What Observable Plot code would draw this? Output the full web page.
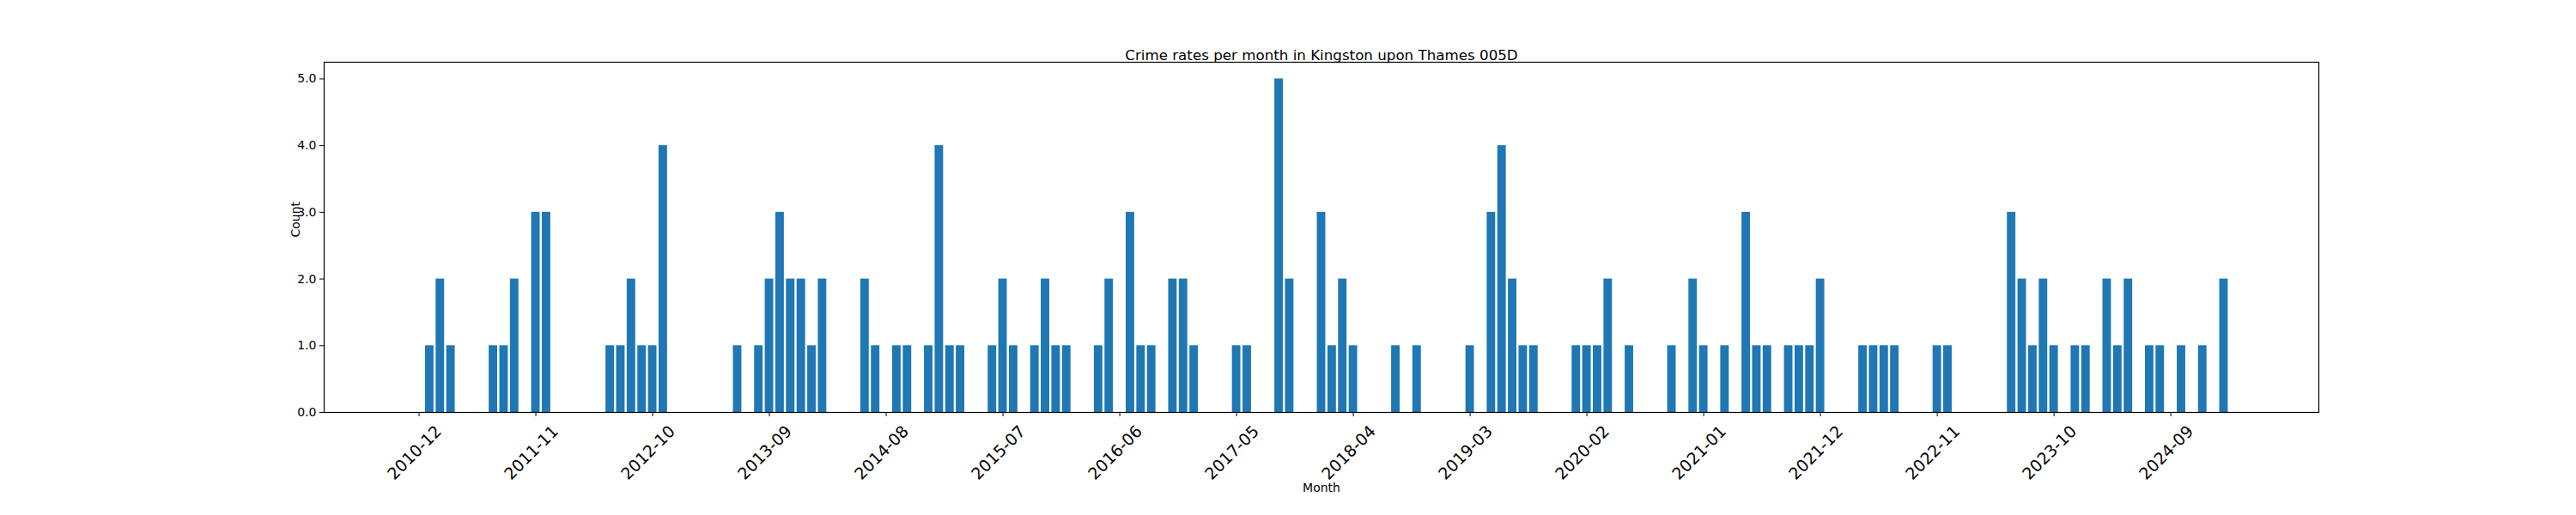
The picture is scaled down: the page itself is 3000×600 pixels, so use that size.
<!DOCTYPE html>
<html>
<head>
<meta charset="utf-8">
<script src="https://cdn.jsdelivr.net/npm/d3@7"></script>
<script src="https://cdn.jsdelivr.net/npm/@observablehq/plot@0.6"></script>
<style>
  body { margin: 0; background: #fff; }
  svg { font-family: "DejaVu Sans", sans-serif; }
</style>
</head>
<body>
<div id="chart"></div>
<script>
// months 2010-12 .. 2025-02, one category per month
const months = [];
for (let y = 2010, m = 12; months.length < 171; m++) {
  if (m > 12) { m = 1; y++; }
  months.push(`${y}-${String(m).padStart(2, "0")}`);
}
const counts = [
  0,1,2,1,0,0,0,1,1,2,
  0,3,3,0,0,0,0,0,1,1,
  2,1,1,4,0,0,0,0,0,0,
  1,0,1,2,3,2,2,1,2,0,
  0,0,2,1,0,1,1,0,1,4,
  1,1,0,0,1,2,1,0,1,2,
  1,1,0,0,1,2,0,3,1,1,
  0,2,2,1,0,0,0,1,1,0,
  0,5,2,0,0,3,1,2,1,0,
  0,0,1,0,1,0,0,0,0,1,
  0,3,4,2,1,1,0,0,0,1,
  1,1,2,0,1,0,0,0,1,0,
  2,1,0,1,0,3,1,1,0,1,
  1,1,2,0,0,0,1,1,1,1,
  0,0,0,1,1,0,0,0,0,0,
  3,2,1,2,1,0,1,1,0,2,
  1,2,0,1,1,0,1,0,1,0,
  2
];
const tickIdx = months.map((_, i) => i).filter((i) => i % 11 === 0);

const data = months.map((month, i) => ({ i, month, count: counts[i] }));
const n = months.length;
const pad = 0.05 * (n - 1 + 0.8);

const chart = Plot.plot({
  width: 3000,
  height: 600,
  marginLeft: 377,
  marginRight: 300,
  marginTop: 72,
  marginBottom: 120,
  x: { type: "linear", domain: [-0.4 - pad, n - 1 + 0.4 + pad], axis: null },
  y: { domain: [0, 5.25], axis: null },
  marks: [
    Plot.rectY(data, {
      x1: (d) => d.i - 0.4,
      x2: (d) => d.i + 0.4,
      y1: 0,
      y2: "count",
      fill: "#1f77b4",
    }),
    Plot.axisY([0, 1, 2, 3, 4, 5], {
      tickSize: 5,
      tickPadding: 4,
      fontSize: 14,
      label: null,
      stroke: "black",
      fill: "black",
    }),
    Plot.axisX(tickIdx, {
      tickSize: 5,
      tickFormat: () => "",
      label: null,
      stroke: "black",
    }),
    Plot.text(tickIdx, {
      x: (d) => d,
      y: 0,
      text: (d) => months[d],
      rotate: -45,
      textAnchor: "end",
      dx: 23,
      dy: 19,
      fontSize: 19,
      fill: "black",
    }),
    Plot.frame({ stroke: "black", strokeWidth: 1.2 }),
    Plot.text(["Crime rates per month in Kingston upon Thames 005D"], {
      frameAnchor: "top",
      dy: -14,
      fontSize: 16.7,
      fill: "black",
    }),
    Plot.text(["Count"], {
      frameAnchor: "left",
      dx: -33,
      rotate: -90,
      fontSize: 14,
      fill: "black",
    }),
    Plot.text(["Month"], {
      frameAnchor: "bottom",
      dy: 92,
      fontSize: 14,
      fill: "black",
    }),
  ],
});
document.getElementById("chart").appendChild(chart);
</script>
</body>
</html>
